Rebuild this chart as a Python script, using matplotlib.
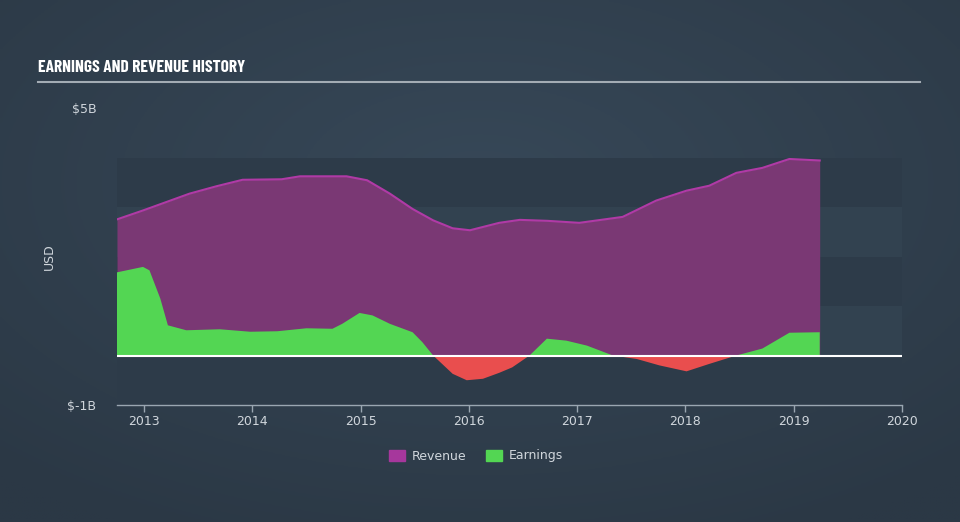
import matplotlib
matplotlib.use("Agg")
import matplotlib.pyplot as plt
import matplotlib.patches as mpatches
import numpy as np

# revenue (USD billions)
rev_years = [2012.75, 2012.99, 2013.42, 2013.67, 2013.91, 2014.27, 2014.44, 2014.87,
             2015.06, 2015.27, 2015.48, 2015.67, 2015.85, 2016.01, 2016.28, 2016.47,
             2016.73, 2017.02, 2017.42, 2017.73, 2018.01, 2018.22, 2018.47, 2018.71,
             2018.96, 2019.24]
revenue = [2.75, 2.93, 3.27, 3.42, 3.55, 3.56, 3.62, 3.62,
           3.54, 3.27, 2.96, 2.73, 2.57, 2.53, 2.68, 2.74,
           2.72, 2.68, 2.80, 3.13, 3.33, 3.43, 3.69, 3.79,
           3.97, 3.94]

# earnings (USD billions)
earn_years = [2012.75, 2012.99, 2013.05, 2013.15, 2013.22, 2013.39, 2013.70, 2013.98,
              2014.23, 2014.50, 2014.74, 2014.83, 2014.99, 2015.11, 2015.27, 2015.48,
              2015.57, 2015.67, 2015.85, 2015.98, 2016.13, 2016.28, 2016.40, 2016.56,
              2016.72, 2016.90, 2017.09, 2017.33, 2017.55, 2017.76, 2018.01, 2018.22,
              2018.47, 2018.71, 2018.96, 2019.24]
earnings = [1.68, 1.79, 1.72, 1.15, 0.61, 0.51, 0.53, 0.48,
            0.49, 0.55, 0.54, 0.64, 0.86, 0.81, 0.64, 0.47,
            0.27, 0.0, -0.37, -0.50, -0.47, -0.35, -0.24, 0.0,
            0.34, 0.30, 0.20, 0.0, -0.07, -0.20, -0.32, -0.17,
            0.0, 0.14, 0.46, 0.47]

x_ticks = [2013, 2014, 2015, 2016, 2017, 2018, 2019, 2020]
y_ticks = [-1, 5]
y_tick_labels = ["$-1B", "$5B"]

fig = plt.figure(figsize=(9.6, 5.22), dpi=100)

### background gradient
bg = fig.add_axes([0, 0, 1, 1], zorder=-10)
gx, gy = np.meshgrid(np.linspace(-1, 1, 300), np.linspace(-1, 1, 200))
r = np.sqrt(gx ** 2 + (gy + 0.3) ** 2)
c0 = np.array([0x37, 0x48, 0x58]) / 255
c1 = np.array([0x2b, 0x38, 0x45]) / 255
img = c0 + (c1 - c0) * np.clip(r / 1.5, 0, 1)[..., None]
bg.imshow(img, aspect="auto", extent=[0, 1, 0, 1], origin="upper")
bg.set_axis_off()

### title and rule
fig.text(38 / 960, 1 - 68 / 522, "EARNINGS AND REVENUE HISTORY", color="white",
         fontsize=12.5, fontweight="bold", family=["Barlow Condensed", "DejaVu Sans"],
         va="center", ha="left")
fig.add_artist(plt.Line2D([38 / 960, 920 / 960], [1 - 82 / 522, 1 - 82 / 522],
                          color="#a3acb4", lw=1.5))

### main axes
ax = fig.add_axes([117 / 960, 117 / 522, 785 / 960, 297 / 522])
ax.patch.set_alpha(0)
ax.set_xlim(2012.75, 2020.0)
ax.set_ylim(-1, 5)

band_cols = ["#2d3b49", "#324250"]
for i, lo in enumerate(range(-1, 4)):
    ax.axhspan(lo, lo + 1, color=band_cols[i % 2], lw=0, zorder=0)

ax.fill_between(rev_years, 0, revenue, color="#7a3874", lw=0, zorder=2)
ax.plot(rev_years, revenue, color="#b03aa6", lw=1.5, zorder=3)

ex = np.array(earn_years)
ey = np.array(earnings)
ax.fill_between(ex, 0, ey, where=ey >= 0, interpolate=True, color="#53d653", lw=0, zorder=4)
ax.fill_between(ex, 0, ey, where=ey <= 0, interpolate=True, color="#e94e4e", lw=0, zorder=4)
ax.axhline(0, color="white", lw=1.5, zorder=5)

for s in ["top", "right", "left"]:
    ax.spines[s].set_visible(False)
ax.spines["bottom"].set_color("#9aa6b1")
ax.spines["bottom"].set_linewidth(1)

ax.set_xticks(x_ticks)
ax.set_xticklabels([str(t) for t in x_ticks])
ax.tick_params(axis="x", colors="#9aa6b1", labelcolor="#d0d6dc", labelsize=9,
               length=5, width=1, pad=2)
ax.set_yticks(y_ticks)
ax.set_yticklabels(y_tick_labels)
ax.tick_params(axis="y", length=0, labelcolor="#d0d6dc", labelsize=9, pad=15)
ax.set_ylabel("USD", color="#d0d6dc", fontsize=9, labelpad=8)

### legend
handles = [mpatches.Patch(color="#a6379c", label="Revenue"),
           mpatches.Patch(color="#53d653", label="Earnings")]
leg = fig.legend(handles=handles, loc="center", bbox_to_anchor=(476 / 960, 1 - 456 / 522),
                 ncol=2, frameon=False, fontsize=9, handlelength=1.3, handleheight=1.0,
                 columnspacing=1.6, handletextpad=0.5)
for t in leg.get_texts():
    t.set_color("#d0d6dc")

plt.savefig("out.png", dpi=100)
